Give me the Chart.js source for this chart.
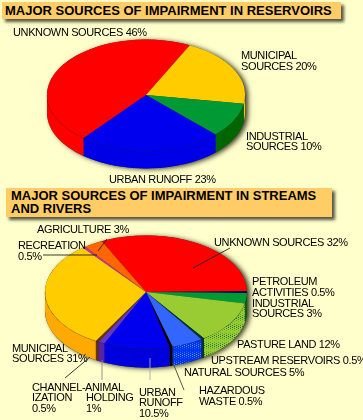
<!DOCTYPE html>
<html><head><meta charset="utf-8">
<script src="https://cdn.jsdelivr.net/npm/chart.js@4/dist/chart.umd.min.js"></script>
<style>
html,body{margin:0;padding:0;background:#FFFFCC;}
body{width:363px;height:420px;position:relative;overflow:hidden;font-family:"Liberation Sans",Arial,sans-serif;}
canvas{position:absolute;left:0;top:0;}
.t{position:absolute;background:#FFCC66;box-shadow:3px 3px 3px #554;color:#000;font-weight:bold;font-size:13px;line-height:12.5px;box-sizing:border-box;white-space:nowrap;}
</style></head><body>
<div class="t" style="left:2px;top:2px;width:339px;height:17px;padding:2.5px 0 0 3px">MAJOR SOURCES OF IMPAIRMENT IN RESERVOIRS</div>
<div class="t" style="left:6px;top:188px;width:326px;height:29px;padding:2px 0 0 5px">MAJOR SOURCES OF IMPAIRMENT IN STREAMS<br>AND RIVERS</div>
<canvas id="c1" width="363" height="420"></canvas>
<canvas id="c2" width="363" height="420"></canvas>
<script>
// ---- data: reservoirs
const resCategories = ["UNKNOWN SOURCES","MUNICIPAL SOURCES","INDUSTRIAL SOURCES","URBAN RUNOFF"];
const resValues = [46,20,10,23];
const resColors = ["#FF0000","#FFCC00","#009933","#0000EE"];
const resWalls = ["#FF0000","#FFCC00","#006600","#0000E6"];
// ---- data: streams and rivers
const strCategories = ["UNKNOWN SOURCES","PETROLEUM ACTIVITIES","INDUSTRIAL SOURCES","PASTURE LAND","UPSTREAM RESERVOIRS","NATURAL SOURCES","HAZARDOUS WASTE","URBAN RUNOFF","ANIMAL HOLDING","CHANNELIZATION","MUNICIPAL SOURCES","RECREATION","AGRICULTURE"];
const strValues = [32,0.5,3,12,0.5,5,0.5,10.5,1,0.5,31,0.5,3];
const strColors = ["#FF0000","#000066","#009933","#99CC33","#003333","#3366FF","#000000","#0000EE","#6633CC","#663300","#FFCC00","#CC3399","#FF6600"];
// ---- labels
const resLabels = [
 ["UNKNOWN SOURCES 46%",13,36],["MUNICIPAL",241,59],["SOURCES 20%",241,69.5],
 ["INDUSTRIAL",246,140],["SOURCES 10%",246,150],["URBAN RUNOFF 23%",109,183]];
const strLabels = [
 ["AGRICULTURE 3%",37,233],["RECREATION",18,249],["0.5%",18,260],["UNKNOWN SOURCES 32%",214,246],
 ["PETROLEUM",252,285],["ACTIVITIES 0.5%",252,295.5],["INDUSTRIAL",252,307],["SOURCES 3%",252,317],
 ["PASTURE LAND 12%",237,348],["UPSTREAM RESERVOIRS 0.5%",211,364],["NATURAL SOURCES 5%",184,376],
 ["HAZARDOUS",199,394],["WASTE 0.5%",199,405],["URBAN",139,396],["RUNOFF",139,406],["10.5%",139,417],
 ["CHANNEL-",32,391],["IZATION",32,401],["0.5%",32,412],["ANIMAL",85,391],["HOLDING",86,401],["1%",86,412],
 ["MUNICIPAL",12,352],["SOURCES 31%",12,362]];
const strLeaders = [
 [230,248,193,268,"#222"],[107,239,98,251,"#222"],[43,255,97,255,"#222"],[65,378,90,357,"#222"],
 [102,380,102,360,"#888"],[150,380,150,358,"#aaa"],[184,390,173,363,"#444"]];

function dots(base,dot){
  const c=document.createElement('canvas');c.width=c.height=4;
  const x=c.getContext('2d');x.fillStyle=base;x.fillRect(0,0,4,4);
  x.fillStyle=dot;x.fillRect(0,0,1,1);x.fillRect(2,2,1,1);
  return x.createPattern(c,'repeat');
}
const ctxProbe=document.getElementById('c2').getContext('2d');
const strWalls = ["#DD0000","#000066","#006600",dots("#99CC33","#006633"),"#003333",dots("#0033EE","#66AAFF"),"#000000","#0000DD","#5522AA","#663300","#FFAA00","#CC3399","#FF6600"];

const pie3d={id:'pie3d',
 beforeDatasetsDraw(chart,_,o){
  const ctx=chart.ctx,m=chart.getDatasetMeta(0).data,x=m[0].x,y=m[0].y,R=m[0].outerRadius,dz=o.depth/o.k;
  ctx.save();
  ctx.translate(x,o.cy);ctx.scale(1,o.k);ctx.translate(-x,-y);
  // soft shadow behind solid
  ctx.save();
  ctx.shadowColor='rgba(40,40,20,0.9)';ctx.shadowBlur=5;ctx.shadowOffsetX=3;ctx.shadowOffsetY=1;
  ctx.fillStyle='#333';
  ctx.beginPath();ctx.arc(x,y+dz,R,0,Math.PI);ctx.arc(x,y,R,Math.PI,2*Math.PI);ctx.closePath();ctx.fill();
  ctx.restore();
  m.forEach((a,i)=>{
   [-2,0,2].forEach(t=>{
    const s=Math.max(a.startAngle+t*Math.PI,0),e=Math.min(a.endAngle+t*Math.PI,Math.PI);
    if(e>s){
     ctx.fillStyle=o.walls[i];
     ctx.beginPath();ctx.arc(x,y+dz,R,s,e);ctx.arc(x,y,R,e,s,true);ctx.closePath();ctx.fill();
     ctx.strokeStyle=o.seam;ctx.lineWidth=1;
     ctx.beginPath();ctx.arc(x,y,R,s,e);ctx.stroke();
    }
   });
  });
 },
 afterDatasetsDraw(chart,_,o){
  const ctx=chart.ctx;
  ctx.restore();
  ctx.save();
  ctx.fillStyle='#000';ctx.font=o.font;ctx.textBaseline='alphabetic';ctx.letterSpacing='-0.37px';
  o.labels.forEach(l=>ctx.fillText(l[0],l[1],l[2]));
  (o.leaders||[]).forEach(l=>{ctx.strokeStyle=l[4];ctx.lineWidth=0.9;ctx.beginPath();ctx.moveTo(l[0],l[1]);ctx.lineTo(l[2],l[3]);ctx.stroke();});
  ctx.restore();
 }};

function make(id,cats,vals,cols,rot,pad,opts){
 return new Chart(document.getElementById(id),{type:'pie',
  data:{labels:cats,datasets:[{data:vals,backgroundColor:cols,borderWidth:0,hoverOffset:0}]},
  options:{responsive:false,animation:false,rotation:rot,layout:{padding:pad},
   events:[],plugins:{legend:{display:false},tooltip:{enabled:false},pie3d:opts}},
  plugins:[pie3d]});
}
make('c1',resCategories,resValues,resColors,219,{left:47,right:118,top:0,bottom:221},
 {k:0.56,cy:95,depth:18,walls:resWalls,seam:'rgba(0,0,0,0.3)',labels:resLabels,font:'11px "Liberation Sans"'});
make('c2',strCategories,strValues,strColors,334,{left:45,right:116,top:0,bottom:218},
 {k:0.56,cy:292,depth:19,walls:strWalls,seam:'rgba(0,0,60,0.45)',labels:strLabels,leaders:strLeaders,font:'11px "Liberation Sans"'});
</script>
</body></html>
